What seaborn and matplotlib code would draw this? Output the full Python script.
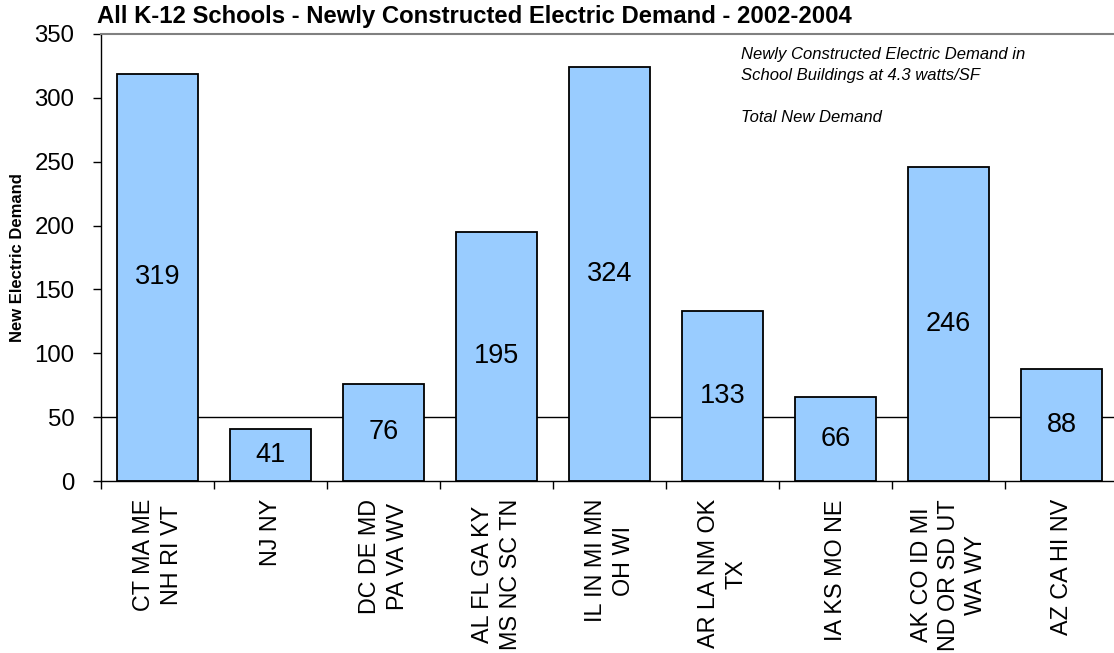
import matplotlib
matplotlib.use("Agg")
import matplotlib.pyplot as plt
import seaborn as sns
import numpy as np

categories = ["CT MA ME\nNH RI VT", "NJ NY", "DC DE MD\nPA VA WV", "AL FL GA KY\nMS NC SC TN",
              "IL IN MI MN\nOH WI", "AR LA NM OK\nTX", "IA KS MO NE",
              "AK CO ID MI\nND OR SD UT\nWA WY", "AZ CA HI NV"]
values = [319, 41, 76, 195, 324, 133, 66, 246, 88]
yticks = [0, 50, 100, 150, 200, 250, 300, 350]
title = "All K-12 Schools - Newly Constructed Electric Demand - 2002-2004"
ylabel = "New Electric Demand"
note1 = "Newly Constructed Electric Demand in\nSchool Buildings at 4.3 watts/SF"
note2 = "Total New Demand"

sns.set_style("white")
plt.rcParams["font.family"] = ["Liberation Sans", "DejaVu Sans"]
plt.rcParams["text.color"] = "black"
plt.rcParams["axes.labelcolor"] = "black"
plt.rcParams["xtick.color"] = "black"
plt.rcParams["ytick.color"] = "black"

fig = plt.figure(figsize=(11.14, 6.53), dpi=100)
ax = fig.add_axes([101 / 1114, 1 - 481 / 653, (1118 - 101) / 1114, (481 - 34) / 653])

sns.barplot(x=categories, y=values, color="#99CCFF", saturation=1, edgecolor="black",
            linewidth=1.3, width=0.72, ax=ax, zorder=2)
ax.axhline(50, color="black", lw=1, zorder=1)

for i, v in enumerate(values):
    ax.text(i, v / 2, str(v), ha="center", va="center", fontsize=19.5, color="black", zorder=3)

ax.set_xlim(-0.5, len(categories) - 0.5)
ax.set_ylim(0, 350)
ax.set_yticks(yticks)
ax.set_yticklabels([str(t) for t in yticks], fontsize=17.3, color="black")
ax.tick_params(axis="y", direction="out", length=6, width=1, color="black", labelcolor="black",
               pad=13, left=True)

ax.set_xticks(range(len(categories)))
ax.set_xticklabels(categories, rotation=90, fontsize=16.8, ha="center", va="top",
                   multialignment="center", linespacing=1.25, color="black")
ax.tick_params(axis="x", which="major", length=0, pad=13, labelcolor="black")
ax.set_xticks(np.arange(-0.5, len(categories), 1.0), minor=True)
ax.tick_params(axis="x", which="minor", direction="out", length=6, width=1, color="black", bottom=True)

ax.set_xlabel("")
ax.set_ylabel(ylabel, fontsize=12, fontweight="bold", labelpad=7, color="black")

for s in ["left", "bottom"]:
    ax.spines[s].set_color("black")
    ax.spines[s].set_linewidth(1)
ax.spines["top"].set_color("#808080")
ax.spines["top"].set_linewidth(1.5)
ax.spines["right"].set_visible(False)

fig.text(97 / 1114, 1 - 16 / 653, title, fontsize=17.2, fontweight="bold", ha="left", va="center",
         color="black")
fig.text(741 / 1114, 1 - 47 / 653, note1, fontsize=12, style="italic", ha="left", va="top",
         linespacing=1.5, color="black")
fig.text(741 / 1114, 1 - 110 / 653, note2, fontsize=12, style="italic", ha="left", va="top",
         color="black")

fig.savefig("out.png", dpi=100)
